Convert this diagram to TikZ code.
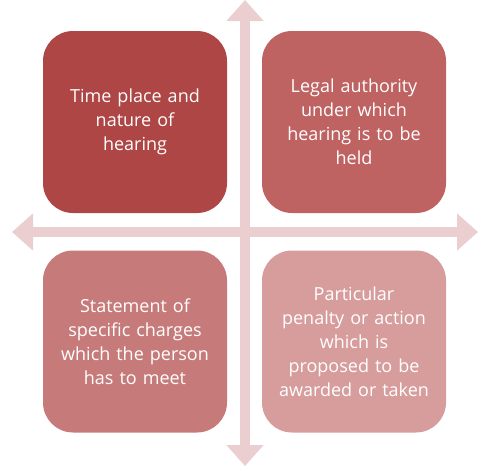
\documentclass[tikz,border=0pt]{standalone}
\usepackage{fontspec}
\setmainfont{Open Sans}
\usepackage{xcolor}
\usepackage{tikz}
\usetikzlibrary{arrows.meta,positioning}
\definecolor{quadA}{RGB}{173,70,69}
\definecolor{quadB}{RGB}{190,99,98}
\definecolor{quadC}{RGB}{198,123,122}
\definecolor{quadD}{RGB}{214,157,156}
\definecolor{axispink}{RGB}{235,207,208}
\tikzset{
  quad/.style={rounded corners=30pt,minimum width=184pt,minimum height=182pt,
               text width=176pt,align=center,text=white,inner sep=0pt,
               font=\fontsize{18}{24}\selectfont},
  axis/.style={draw=axispink,line width=10pt,
               {Triangle[length=21pt,width=36pt]}-{Triangle[length=21pt,width=36pt]}},
}

\begin{document}
\begin{tikzpicture}[x=1pt,y=-1pt]
  \useasboundingbox (0,0) rectangle (482,472);

  % axes
  \coordinate (top)    at (245,0);
  \coordinate (bottom) at (245,466);
  \coordinate (left)   at (12,232);
  \coordinate (right)  at (478,232);
  \draw[axis] (left) -- (right);
  \draw[axis] (top) -- (bottom);

  % quadrants
  \node[quad,fill=quadA] (time)    at (135,122) {Time place and\\nature of\\hearing};
  \node[quad,fill=quadB] (legal)   at (354,122) {Legal authority\\under which\\hearing is to be\\held};
  \node[quad,fill=quadC] (charges) at (135,341.5) {Statement of\\specific charges\\which the person\\has to meet};
  \node[quad,fill=quadD] (penalty) at (354,341.5) {Particular\\penalty or action\\which is\\proposed to be\\awarded or taken};
\end{tikzpicture}
\end{document}
